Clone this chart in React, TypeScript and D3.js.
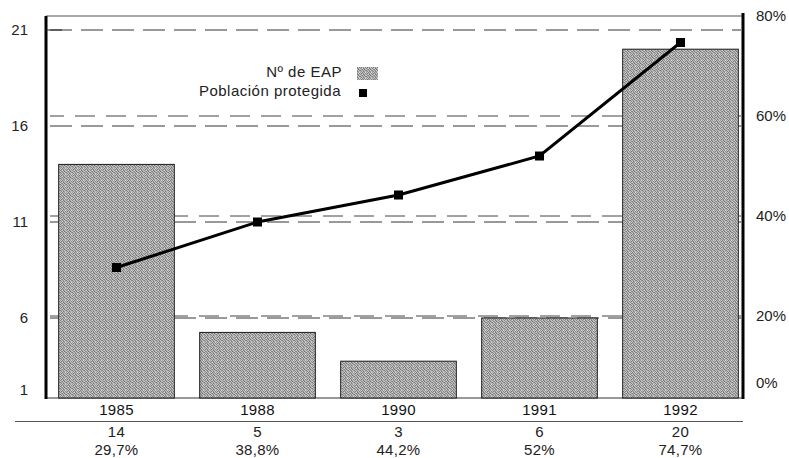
import { useEffect, useRef } from "react";
import * as d3 from "d3";

const years = ["1985", "1988", "1990", "1991", "1992"];
const eapCount = [14, 5, 3, 6, 20];
const protectedPct = [29.7, 38.8, 44.2, 52, 74.7];
const pctLabels = ["29,7%", "38,8%", "44,2%", "52%", "74,7%"];
const leftTicks = [1, 6, 11, 16, 21];
const rightTicks = [0, 20, 40, 60, 80];

const W = 789;
const H = 458;
const FONT = "'Liberation Sans', Arial, Helvetica, sans-serif";

// screen grain for the halftone bars
const grain = [
  [150, 200, 120, 180, 140, 210],
  [190, 110, 170, 135, 195, 125],
  [130, 175, 205, 115, 160, 185],
  [200, 140, 125, 190, 105, 170],
  [115, 185, 160, 145, 200, 135],
  [175, 130, 195, 120, 155, 190],
];

const App = () => {
  const svgRef = useRef<SVGSVGElement>(null);

  useEffect(() => {
    const svg = d3.select(svgRef.current);
    svg.selectAll("*").remove();

    const left = 46;
    const right = 743;
    const bottom = 398;

    const x = d3
      .scaleBand()
      .domain(years)
      .range([left, 751])
      .paddingInner(0.18)
      .paddingOuter(0.09);
    const bw = x.bandwidth();

    // the scanned axes are squeezed at the bottom, so both are piecewise
    const yLeft = d3.scaleLinear().domain([1, 6, 21]).range([390, 318, 30]);
    const yRight = d3.scaleLinear().domain([0, 20, 80]).range([383, 316, 16]);

    // halftone fill
    const defs = svg.append("defs");
    const pat = defs
      .append("pattern")
      .attr("id", "ht")
      .attr("width", 6)
      .attr("height", 6)
      .attr("patternUnits", "userSpaceOnUse");
    grain.forEach((row, py) =>
      row.forEach((v, px) => {
        pat
          .append("rect")
          .attr("x", px)
          .attr("y", py)
          .attr("width", 1)
          .attr("height", 1)
          .attr("fill", d3.rgb(v + 6, v + 6, v + 6).toString());
      })
    );

    // dashed gridlines, left and right axis sets (double lines)
    svg
      .append("g")
      .selectAll("line")
      .data(leftTicks.filter((d) => d > 1))
      .enter()
      .append("line")
      .attr("x1", left + 4)
      .attr("x2", right - 2)
      .attr("y1", (d) => yLeft(d))
      .attr("y2", (d) => yLeft(d))
      .attr("stroke", "#333")
      .attr("stroke-width", 1)
      .attr("stroke-dasharray", "22 9");

    svg
      .append("g")
      .selectAll("line")
      .data(rightTicks.filter((d) => d > 0 && d < 80))
      .enter()
      .append("line")
      .attr("x1", left + 4)
      .attr("x2", right - 2)
      .attr("y1", (d) => yRight(d))
      .attr("y2", (d) => yRight(d))
      .attr("stroke", "#444")
      .attr("stroke-width", 1)
      .attr("stroke-dasharray", "20 11")
      .attr("stroke-dashoffset", 6);

    // frame top and baseline
    svg
      .append("line")
      .attr("x1", left)
      .attr("x2", right)
      .attr("y1", yRight(80))
      .attr("y2", yRight(80))
      .attr("stroke", "#555")
      .attr("stroke-width", 1);
    svg
      .append("line")
      .attr("x1", left)
      .attr("x2", right)
      .attr("y1", bottom)
      .attr("y2", bottom)
      .attr("stroke", "#333")
      .attr("stroke-width", 1);

    // bars
    svg
      .append("g")
      .selectAll("rect")
      .data(eapCount)
      .enter()
      .append("rect")
      .attr("x", (d, i) => x(years[i]))
      .attr("y", (d) => yLeft(d))
      .attr("width", bw)
      .attr("height", (d) => bottom - yLeft(d))
      .attr("fill", "url(#ht)")
      .attr("stroke", "#1a1a1a")
      .attr("stroke-width", 1);

    // axes lines
    svg
      .append("line")
      .attr("x1", left)
      .attr("x2", left)
      .attr("y1", yRight(80))
      .attr("y2", bottom + 1)
      .attr("stroke", "#000")
      .attr("stroke-width", 3);
    svg
      .append("line")
      .attr("x1", right)
      .attr("x2", right)
      .attr("y1", yRight(80) - 3)
      .attr("y2", bottom + 1)
      .attr("stroke", "#000")
      .attr("stroke-width", 3);
    // small inner tick at the top value
    svg
      .append("line")
      .attr("x1", left)
      .attr("x2", left + 16)
      .attr("y1", yLeft(21))
      .attr("y2", yLeft(21))
      .attr("stroke", "#222")
      .attr("stroke-width", 1);

    // left axis labels
    const gl = svg
      .append("g")
      .attr("transform", `translate(${left},0)`)
      .call(d3.axisLeft(yLeft).tickValues(leftTicks).tickSize(0).tickPadding(18));
    gl.select(".domain").remove();
    gl.selectAll("text")
      .attr("font-family", FONT)
      .attr("font-size", 15)
      .attr("fill", "#222");

    // right axis labels
    const gr = svg
      .append("g")
      .attr("transform", `translate(${right},0)`)
      .call(
        d3
          .axisRight(yRight)
          .tickValues(rightTicks)
          .tickSize(0)
          .tickPadding(13)
          .tickFormat((d) => `${d}%`)
      );
    gr.select(".domain").remove();
    gr.selectAll("text")
      .attr("font-family", FONT)
      .attr("font-size", 15)
      .attr("fill", "#222");

    // protected population line
    const line = d3
      .line<number>()
      .x((d, i) => x(years[i]) + bw / 2)
      .y((d) => yRight(d));
    svg
      .append("path")
      .datum(protectedPct)
      .attr("d", line)
      .attr("fill", "none")
      .attr("stroke", "#000")
      .attr("stroke-width", 3);
    svg
      .append("g")
      .selectAll("rect")
      .data(protectedPct)
      .enter()
      .append("rect")
      .attr("x", (d, i) => x(years[i]) + bw / 2 - 4.5)
      .attr("y", (d) => yRight(d) - 4.5)
      .attr("width", 9)
      .attr("height", 9)
      .attr("fill", "#000");

    // bottom table
    const tb = svg
      .append("g")
      .attr("font-family", FONT)
      .attr("font-size", 15)
      .attr("letter-spacing", 0.3)
      .attr("fill", "#222");
    tb.selectAll(".yr")
      .data(years)
      .enter()
      .append("text")
      .attr("x", (d) => x(d) + bw / 2)
      .attr("y", 415)
      .attr("text-anchor", "middle")
      .attr("fill", "#111")
      .text((d) => d);
    svg
      .append("line")
      .attr("x1", 15)
      .attr("x2", right)
      .attr("y1", 421.5)
      .attr("y2", 421.5)
      .attr("stroke", "#555")
      .attr("stroke-width", 1);
    tb.selectAll(".cnt")
      .data(eapCount)
      .enter()
      .append("text")
      .attr("x", (d, i) => x(years[i]) + bw / 2)
      .attr("y", 437)
      .attr("text-anchor", "middle")
      .text((d) => d);
    tb.selectAll(".pct")
      .data(pctLabels)
      .enter()
      .append("text")
      .attr("x", (d, i) => x(years[i]) + bw / 2)
      .attr("y", 455)
      .attr("text-anchor", "middle")
      .text((d) => d);

    // legend
    const lg = svg
      .append("g")
      .attr("font-family", FONT)
      .attr("font-size", 15)
      .attr("letter-spacing", 0.5)
      .attr("fill", "#222");
    lg.append("text").attr("x", 342).attr("y", 77).attr("text-anchor", "end").text("Nº de EAP");
    lg.append("rect")
      .attr("x", 357)
      .attr("y", 67)
      .attr("width", 21)
      .attr("height", 13)
      .attr("fill", "url(#ht)");
    lg.append("text").attr("x", 341).attr("y", 96).attr("text-anchor", "end").text("Población protegida");
    lg.append("rect").attr("x", 359).attr("y", 89).attr("width", 8).attr("height", 8).attr("fill", "#000");
  }, []);

  return (
    <svg
      ref={svgRef}
      width={W}
      height={H}
      viewBox={`0 0 ${W} ${H}`}
      style={{ position: "absolute", left: 0, top: 0, background: "#fff" }}
    ></svg>
  );
};

export default App;
